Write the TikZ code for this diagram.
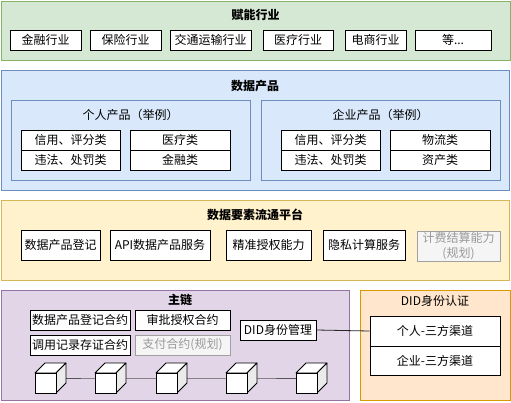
\documentclass[tikz,border=0pt]{standalone}
\usepackage{fontspec}
\setmainfont{Noto Sans CJK SC}
\definecolor{gfill}{HTML}{D5E8D4}\definecolor{gdraw}{HTML}{82B366}
\definecolor{bfill}{HTML}{DAE8FC}\definecolor{bdraw}{HTML}{6C8EBF}
\definecolor{yfill}{HTML}{FFF2CC}\definecolor{ydraw}{HTML}{D6B656}
\definecolor{pfill}{HTML}{E1D5E7}\definecolor{pdraw}{HTML}{9673A6}
\definecolor{ofill}{HTML}{FFE6CC}\definecolor{odraw}{HTML}{D79B00}
\definecolor{plfill}{HTML}{F5F5F5}\definecolor{pltext}{HTML}{999999}\definecolor{pldraw}{HTML}{A0A0A0}
\definecolor{linkc}{HTML}{555555}
\tikzset{
  grp/.style={line width=1pt},
  ttl/.style={font=\fontsize{12pt}{14pt}\selectfont\bfseries, inner sep=0pt},
  sub/.style={font=\fontsize{12pt}{14pt}\selectfont, inner sep=0pt},
  cell/.style={draw=black, fill=white, line width=0.8pt, inner sep=0pt, font=\fontsize{12pt}{14pt}\selectfont, align=center},
  plan/.style={cell, draw=pldraw, fill=plfill, text=pltext},
}
\begin{document}
\begin{tikzpicture}[x=1pt,y=-1pt]
\useasboundingbox (0,0) rectangle (511,402);
% ---- 赋能行业
\draw[grp, draw=gdraw, fill=gfill] (1,1) rectangle (510,60);
\node[ttl] (t1) at (255.5,15) {赋能行业};
\node[cell, minimum width=71pt, minimum height=20pt] (i1) at (45.5,40) {金融行业};
\node[cell, minimum width=71pt, minimum height=20pt] (i2) at (125.5,40) {保险行业};
\node[cell, minimum width=81pt, minimum height=20pt] (i3) at (210.5,40) {交通运输行业};
\node[cell, minimum width=70pt, minimum height=20pt] (i4) at (298,40) {医疗行业};
\node[cell, minimum width=61pt, minimum height=20pt] (i5) at (375.5,40) {电商行业};
\node[cell, minimum width=76pt, minimum height=20pt] (i6) at (453,40) {等...};
% ---- 数据产品
\draw[grp, draw=bdraw, fill=bfill] (1,70) rectangle (509,190);
\node[ttl] (t2) at (255,86) {数据产品};
\draw[grp, draw=bdraw, fill=bfill] (11,100) rectangle (250,180);
\node[sub] (tp) at (130.5,115) {个人产品（举例）};
\node[cell, minimum width=99pt, minimum height=20pt] (p1) at (70.5,140) {信用、评分类};
\node[cell, minimum width=99pt, minimum height=20pt] (p2) at (70.5,160) {违法、处罚类};
\node[cell, minimum width=100pt, minimum height=20pt] (p3) at (180,140) {医疗类};
\node[cell, minimum width=100pt, minimum height=20pt] (p4) at (180,160) {金融类};
\draw[grp, draw=bdraw, fill=bfill] (261,100) rectangle (500,180);
\node[sub] (te) at (380.5,115) {企业产品（举例）};
\node[cell, minimum width=99pt, minimum height=20pt] (e1) at (330.5,140) {信用、评分类};
\node[cell, minimum width=99pt, minimum height=20pt] (e2) at (330.5,160) {违法、处罚类};
\node[cell, minimum width=100pt, minimum height=20pt] (e3) at (440,140) {物流类};
\node[cell, minimum width=100pt, minimum height=20pt] (e4) at (440,160) {资产类};
% ---- 数据要素流通平台
\draw[grp, draw=ydraw, fill=yfill] (1,200) rectangle (509,280);
\node[ttl] (t3) at (255,215) {数据要素流通平台};
\node[cell, minimum width=79pt, minimum height=30pt] (s1) at (60.5,245) {数据产品登记};
\node[cell, minimum width=100pt, minimum height=30pt] (s2) at (160,245) {API数据产品服务};
\node[cell, minimum width=85pt, minimum height=30pt] (s3) at (268.5,245) {精准授权能力};
\node[cell, minimum width=82pt, minimum height=30pt] (s4) at (364,245) {隐私计算服务};
\node[plan, minimum width=83pt, minimum height=30pt, font=\fontsize{12pt}{15pt}\selectfont] (s5) at (458.5,246) {计费结算能力\\(规划)};
% ---- 主链
\draw[grp, draw=pdraw, fill=pfill] (1,290) rectangle (349,400);
\node[ttl] (t4) at (180,300) {主链};
\node[cell, minimum width=100pt, minimum height=20pt] (c1) at (80,320) {数据产品登记合约};
\node[cell, minimum width=95pt, minimum height=20pt] (c2) at (182.5,320) {审批授权合约};
\node[cell, minimum width=100pt, minimum height=20pt] (c3) at (80,345) {调用记录存证合约};
\node[plan, minimum width=95pt, minimum height=20pt] (c4) at (182.5,345) {支付合约(规划)};
\node[cell, minimum width=76pt, minimum height=20pt] (did) at (278,330) {DID身份管理};
% chain
\foreach \i/\x in {1/35,2/95,3/156,4/226,5/296}{
  \coordinate (k\i) at (\x+15.5,378);
}
\draw[linkc, line width=1pt] (k1) -- (k2) -- (k3) -- (k4) -- (k5);
\foreach \x in {35,95,156,226,296}{
  \draw[line width=0.8pt, fill=white, line join=round] (\x,373) -- (\x+10,363) -- (\x+31,363) -- (\x+21,373) -- cycle;
  \draw[line width=0.8pt, fill=black!8, line join=round] (\x+21,373) -- (\x+31,363) -- (\x+31,383) -- (\x+21,393) -- cycle;
  \draw[line width=0.8pt, fill=white] (\x,373) rectangle (\x+21,393);
}
% ---- DID身份认证
\draw[grp, draw=odraw, fill=ofill] (360,290) rectangle (510,400);
\node[sub] (t5) at (435,301) {DID身份认证};
\node[cell, minimum width=130pt, minimum height=30pt] (d1) at (435,331) {个人-三方渠道};
\node[cell, minimum width=130pt, minimum height=29pt] (d2) at (435,360.5) {企业-三方渠道};
\draw[black!85, line width=0.8pt] (did.east) -- (d1.west);
\end{tikzpicture}
\end{document}
